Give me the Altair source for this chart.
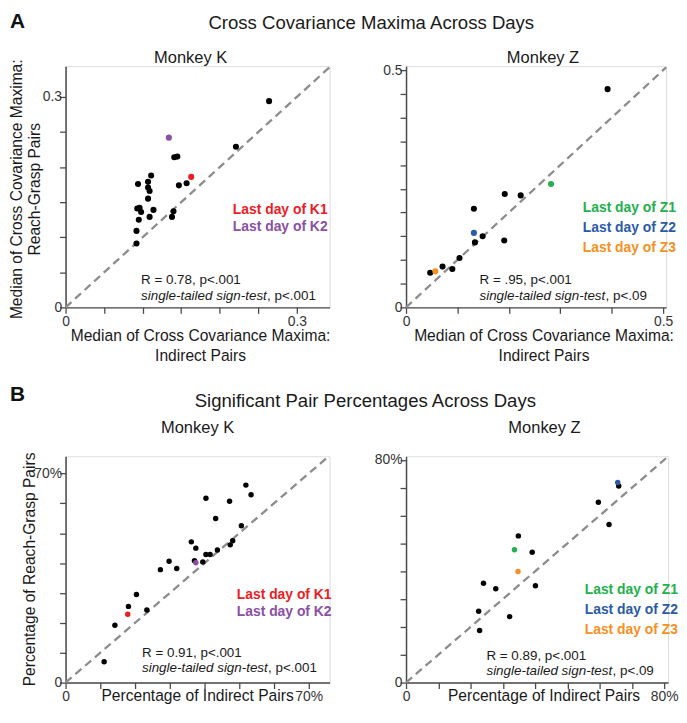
import altair as alt
import pandas as pd

FONT = "Liberation Sans"

# ---------------- data ----------------
# Panel A, Monkey K (median cross covariance maxima)
AK_x = [0.264, 0.221, 0.141, 0.145, 0.157, 0.147, 0.094, 0.107, 0.111, 0.107, 0.109,
        0.107, 0.093, 0.096, 0.098, 0.114, 0.095, 0.109, 0.092, 0.092, 0.140, 0.138,
        0.163, 0.134]
AK_y = [0.294, 0.229, 0.214, 0.215, 0.177, 0.174, 0.176, 0.179, 0.188, 0.171, 0.166,
        0.155, 0.141, 0.142, 0.136, 0.139, 0.125, 0.129, 0.109, 0.091, 0.137, 0.129,
        0.186, 0.242]
AK_g = ["other"] * 22 + ["K1", "K2"]

# Panel A, Monkey Z
AZ_x = [0.392, 0.192, 0.223, 0.132, 0.149, 0.134, 0.191, 0.104, 0.071, 0.090, 0.047,
        0.282, 0.132, 0.057]
AZ_y = [0.460, 0.239, 0.236, 0.208, 0.150, 0.137, 0.141, 0.104, 0.086, 0.081, 0.073,
        0.260, 0.157, 0.076]
AZ_g = ["other"] * 11 + ["Z1", "Z2", "Z3"]

# Panel B, Monkey K (significant pair percentages)
BK_x = [51.9, 53.4, 40.4, 47.2, 43.2, 50.6, 36.2, 37.5, 48.1, 47.4, 40.4, 41.6, 43.7,
        37.1, 39.5, 29.8, 32.0, 27.3, 20.4, 18.1, 23.4, 14.2, 11.1, 17.9, 37.5]
BK_y = [66.1, 62.9, 61.7, 60.7, 54.9, 52.5, 47.1, 45.0, 47.5, 46.1, 42.9, 42.9, 44.4,
        40.8, 40.4, 40.6, 38.2, 37.8, 29.5, 25.5, 24.3, 19.2, 7.0, 22.9, 40.1]
BK_g = ["other"] * 23 + ["K1", "K2"]

# Panel B, Monkey Z
BZ_x = [65.6, 65.9, 59.6, 62.9, 34.8, 39.1, 40.1, 24.0, 27.8, 22.5, 32.1, 22.8, 33.6, 34.7]
BZ_y = [71.9, 70.6, 64.8, 56.8, 52.7, 46.8, 34.8, 35.7, 33.7, 25.6, 23.7, 18.7, 47.7, 39.9]
BZ_g = ["Z2"] + ["other"] * 11 + ["Z1", "Z3"]

GROUPS = ["other", "K1", "K2", "Z1", "Z2", "Z3"]
GROUP_COLORS = ["#000000", "#ed1c24", "#8a4fa6", "#22b14c", "#2b5aa8", "#f7901e"]

# tick positions
AK_xticks = [0, 0.05, 0.10, 0.15, 0.20, 0.25, 0.30]
AK_yticks = [0, 0.05, 0.10, 0.15, 0.20, 0.25, 0.30]
AZ_xticks = [0, 0.1, 0.2, 0.3, 0.4, 0.5]
AZ_yticks = [0, 0.05, 0.10, 0.15, 0.20, 0.25, 0.30, 0.35, 0.40, 0.45, 0.50]
BK_xticks = [0, 10, 20, 30, 40, 50, 60, 70]
BK_yticks = [0, 10, 20, 30, 40, 50, 60, 70]
BZ_xticks = [0, 10, 20, 30, 40, 50, 60, 70, 80]
BZ_yticks = [0, 10, 20, 30, 40, 50, 60, 70, 80]

AXIS_COLOR = "#4a4a4a"


def label_expr(labelled, pct):
    arr = "[" + ",".join(repr(v) for v in labelled) + "]"
    fmt = "format(datum.value, 'd') + '%'" if pct else "format(datum.value, '.1f')"
    return (f"datum.value == 0 ? '0' : (indexof({arr}, datum.value) >= 0 ? "
            f"{fmt} : '')")


def panel(xs, ys, gs, xmax, ymax, xticks, yticks, xlab, ylab, pct,
          width, height, texts, size):
    df = pd.DataFrame({"x": xs, "y": ys, "g": gs})
    df["o"] = [0 if g == "other" else 1 for g in gs]
    xscale = alt.Scale(domain=[0, xmax], nice=False, zero=True)
    yscale = alt.Scale(domain=[0, ymax], nice=False, zero=True)
    common = dict(ticks=True, tickSize=6, tickColor=AXIS_COLOR, tickWidth=1.3,
                  grid=False, title=None,
                  labelFont=FONT, labelFontSize=14, labelColor="#333333",
                  domainColor=AXIS_COLOR, domainWidth=1.5, labelOverlap=False,
                  labelFlush=False)
    xaxis = alt.Axis(values=xticks, labelPadding=1,
                     labelExpr=label_expr(xlab, pct), **common)
    yaxis = alt.Axis(values=yticks, labelPadding=-2,
                     labelExpr=label_expr(ylab, pct), **common)

    m = min(xmax, ymax)
    diag = alt.Chart(pd.DataFrame({"d": [0, m]})).mark_line(
        color="#8c8c8c", strokeWidth=2.3, strokeDash=[8, 5]).encode(
        x=alt.X("d:Q", scale=xscale, axis=xaxis),
        y=alt.Y("d:Q", scale=yscale, axis=yaxis),
    )
    pts = alt.Chart(df).mark_circle(size=size, opacity=1).encode(
        x=alt.X("x:Q", scale=xscale, axis=xaxis),
        y=alt.Y("y:Q", scale=yscale, axis=yaxis),
        color=alt.Color("g:N", scale=alt.Scale(domain=GROUPS, range=GROUP_COLORS),
                        legend=None),
        order=alt.Order("o:Q"),
    )
    layers = [diag, pts]
    for t in texts:
        kw = dict(font=FONT, fontSize=t.get("size", 15.7),
                  fontWeight=t.get("weight", "normal"),
                  fontStyle=t.get("style", "normal"),
                  color=t.get("color", "#1a1a1a"),
                  align=t.get("align", "center"),
                  baseline=t.get("baseline", "alphabetic"))
        if "angle" in t:
            kw["angle"] = t["angle"]
        layers.append(
            alt.Chart(pd.DataFrame({"s": [t["text"]]})).mark_text(**kw).encode(
                text="s:N", x=alt.value(t["x"]), y=alt.value(t["y"]))
        )
    return alt.layer(*layers).properties(width=width, height=height)


IT_W = 127  # width of the italic "single-tailed sign-test" run

AK_texts = [
    dict(text="A", x=-56, y=-38, size=21, weight="bold", align="left", color="#111111"),
    dict(text="Cross Covariance Maxima Across Days", x=308, y=-37, size=18.7),
    dict(text="Monkey K", x=126, y=-3, size=16.6),
    dict(text="Median of Cross Covariance Maxima:", x=-48.5, y=124, angle=270, baseline="middle"),
    dict(text="Reach-Grasp Pairs", x=-31, y=124, angle=270, baseline="middle"),
    dict(text="Median of Cross Covariance Maxima:", x=136, y=277),
    dict(text="Indirect Pairs", x=136, y=297),
    dict(text="Last day of K1", x=264, y=149, size=14, weight="bold", align="right", color=GROUP_COLORS[1]),
    dict(text="Last day of K2", x=264, y=166, size=14, weight="bold", align="right", color=GROUP_COLORS[2]),
    dict(text="R = 0.78, p<.001", x=76, y=219, size=13.5, align="left"),
    dict(text="single-tailed sign-test", x=76, y=236, size=13.5, style="italic", align="left"),
    dict(text=", p<.001", x=76 + IT_W, y=236, size=13.5, align="left"),
]
AZ_texts = [
    dict(text="Monkey Z", x=138, y=-3, size=16.6),
    dict(text="Median of Cross Covariance Maxima:", x=139, y=277),
    dict(text="Indirect Pairs", x=139, y=297),
    dict(text="Last day of Z1", x=272, y=147, size=14, weight="bold", align="right", color=GROUP_COLORS[3]),
    dict(text="Last day of Z2", x=272, y=167, size=14, weight="bold", align="right", color=GROUP_COLORS[4]),
    dict(text="Last day of Z3", x=272, y=187, size=14, weight="bold", align="right", color=GROUP_COLORS[5]),
    dict(text="R = .95, p<.001", x=74, y=219, size=13.5, align="left"),
    dict(text="single-tailed sign-test", x=74, y=236, size=13.5, style="italic", align="left"),
    dict(text=", p<.09", x=74 + IT_W, y=236, size=13.5, align="left"),
]
BK_texts = [
    dict(text="B", x=-56, y=-56, size=21, weight="bold", align="left", color="#111111"),
    dict(text="Significant Pair Percentages Across Days", x=302, y=-50, size=18.7),
    dict(text="Monkey K", x=133, y=-23, size=16.6),
    dict(text="Percentage of Reach-Grasp Pairs", x=-36, y=114, angle=270, baseline="middle"),
    dict(text="Percentage of Indirect Pairs", x=133, y=247),
    dict(text="Last day of K1", x=268, y=144, size=14, weight="bold", align="right", color=GROUP_COLORS[1]),
    dict(text="Last day of K2", x=268, y=161, size=14, weight="bold", align="right", color=GROUP_COLORS[2]),
    dict(text="R = 0.91, p<.001", x=77, y=202, size=13.5, align="left"),
    dict(text="single-tailed sign-test", x=77, y=217, size=13.5, style="italic", align="left"),
    dict(text=", p<.001", x=77 + IT_W, y=217, size=13.5, align="left"),
]
BZ_texts = [
    dict(text="Monkey Z", x=139.5, y=-23, size=16.6),
    dict(text="Percentage of Indirect Pairs", x=139, y=247),
    dict(text="Last day of Z1", x=274, y=139, size=14, weight="bold", align="right", color=GROUP_COLORS[3]),
    dict(text="Last day of Z2", x=274, y=159, size=14, weight="bold", align="right", color=GROUP_COLORS[4]),
    dict(text="Last day of Z3", x=274, y=179, size=14, weight="bold", align="right", color=GROUP_COLORS[5]),
    dict(text="R = 0.89, p<.001", x=81, y=205, size=13.5, align="left"),
    dict(text="single-tailed sign-test", x=81, y=220, size=13.5, style="italic", align="left"),
    dict(text=", p<.09", x=81 + IT_W, y=220, size=13.5, align="left"),
]

pAK = panel(AK_x, AK_y, AK_g, 0.3425, 0.3439, AK_xticks, AK_yticks, [0.3], [0.3],
            False, 266, 243, AK_texts, 38)
pAZ = panel(AZ_x, AZ_y, AZ_g, 0.5058, 0.5084, AZ_xticks, AZ_yticks, [0.5], [0.5],
            False, 262, 243, AZ_texts, 38)
pBK = panel(BK_x, BK_y, BK_g, 76.0, 75.75, BK_xticks, BK_yticks, [70], [70],
            True, 266, 228, BK_texts, 30)
pBZ = panel(BZ_x, BZ_y, BZ_g, 81.2, 81.3, BZ_xticks, BZ_yticks, [80], [80],
            True, 264, 228, BZ_texts, 30)

chart = alt.concat(
    pAK, pAZ, pBK, pBZ, columns=2, bounds="flush",
    spacing={"row": 150, "column": 77},
).resolve_scale(
    x="independent", y="independent"
).properties(
    padding={"left": 0, "top": 0, "right": 0, "bottom": 0}
).configure_view(stroke=None).configure(background="white")

chart.save("out.html", embed_options={"renderer": "svg", "actions": False})
